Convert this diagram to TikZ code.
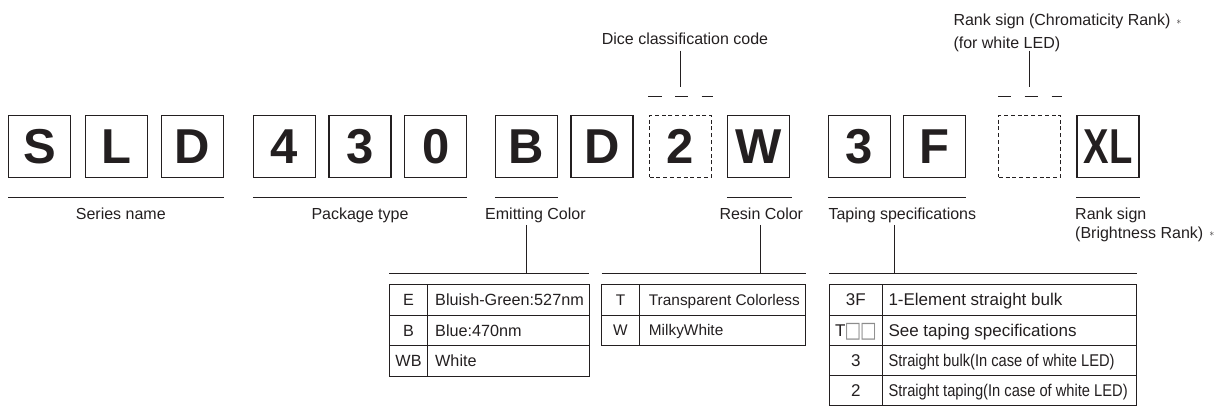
\documentclass[tikz,border=0pt]{standalone}
\usepackage{fontspec}
\setmainfont{Liberation Sans}
\newfontfamily\symfont{DejaVu Sans}
\definecolor{ink}{RGB}{35,31,32}
\definecolor{sqgray}{RGB}{140,140,140}
\begin{document}
\begin{tikzpicture}[x=1pt,y=-1pt,
  every node/.style={text=ink},
  charbox/.style={draw=ink,line width=1.1pt,minimum width=62pt,minimum height=62pt,inner sep=0pt,
    font=\fontsize{49}{49}\selectfont\bfseries},
  dashbox/.style={charbox,dash pattern=on 4pt off 2.8pt},
  rule/.style={draw=ink,line width=1pt},
  lbl/.style={inner sep=0pt,font=\fontsize{16}{19}\selectfont},
  tbl/.style={draw=ink,line width=1pt},
  tA/.style={inner sep=0pt,anchor=base,font=\fontsize{16.2}{18}\selectfont},
  tB/.style={inner sep=0pt,anchor=base west,font=\fontsize{16.2}{18}\selectfont},
  uA/.style={inner sep=0pt,anchor=base,font=\fontsize{15.4}{18}\selectfont},
  uB/.style={inner sep=0pt,anchor=base west,font=\fontsize{15.4}{18}\selectfont},
  vA/.style={inner sep=0pt,anchor=base,font=\fontsize{17}{19}\selectfont},
  vB/.style={inner sep=0pt,anchor=base west,font=\fontsize{17}{19}\selectfont}]
\useasboundingbox (0,0) rectangle (1218,406);

% ---------- code characters ----------
\node[charbox] (cS)  at (39.7,146.3) {S};
\node[charbox] (cL)  at (116.3,146.3) {L};
\node[charbox] (cD1) at (192.3,146.3) {D};
\node[charbox] (c4)  at (284.3,146.3) {4};
\node[charbox] (c3a) at (360,146.3) {3};
\node[charbox] (c0)  at (435.7,146.3) {0};
\node[charbox] (cB)  at (526.3,146.3) {B};
\node[charbox] (cD2) at (602,146.3) {D};
\node[dashbox] (c2)  at (680.5,146.3) {2};
\node[charbox] (cW)  at (758.3,146.3) {W};
\node[charbox] (c3b) at (859.3,146.3) {3};
\node[charbox] (cF)  at (934.7,146.3) {F};
\node[dashbox] (cR)  at (1029.7,146.3) {};
\node[charbox] (cXL) at (1108,146.3) {\scalebox{0.78}[1]{XL}};

% ---------- underlines ----------
\coordinate (ul) at (0,198);
\draw[rule] (cS.west |- ul) -- (cD1.east |- ul);
\draw[rule] (c4.west |- ul) -- (c0.east |- ul);
\draw[rule] (cB.west |- ul) -- (cB.east |- ul);
\draw[rule] (cW.west |- ul) -- ([xshift=2pt]cW.east |- ul);
\draw[rule] (c3b.west |- ul) -- (cF.east |- ul);
\draw[rule] (cXL.west |- ul) -- (cXL.east |- ul);

% ---------- labels below ----------
\node[lbl,anchor=base] (lseries) at (120.8,219.3) {Series name};
\node[lbl,anchor=base] (lpack) at (360,219.3) {Package type};
\node[lbl,anchor=base west] (lemit) at (485,219.3) {Emitting Color};
\node[lbl,anchor=base west] (lresin) at (719.3,219.3) {Resin Color};
\node[lbl,anchor=base west] (ltape) at (828.3,219.3) {Taping specifications};
\node[lbl,anchor=base west] (lrank) at (1075,219.3) {Rank sign};
\node[lbl,anchor=base west] (lbright) at (1075,238.3) {(Brightness Rank)\hspace{6pt}\raisebox{1.8pt}{\fontsize{10}{10}\selectfont$\ast$}};

% ---------- labels above ----------
\node[lbl,anchor=base] (ldice) at (685,45) {Dice classification code};
\node[lbl,anchor=base west] (lchrom) at (953.3,26) {Rank sign (Chromaticity Rank)\hspace{6pt}\raisebox{1.8pt}{\fontsize{10}{10}\selectfont$\ast$}};
\node[lbl,anchor=base west] (lchrom2) at (953.3,48.3) {(for white LED)};

% dice connector and placeholder dashes
\coordinate (dtop) at (680.7,50.7);
\coordinate (dbot) at (680.7,86.7);
\draw[rule] (dtop) -- (dbot);
\draw[rule] (648.3,96.3) -- (661.7,96.3);
\draw[rule] (675,96.3) -- (688.3,96.3);
\draw[rule] (701.7,96.3) -- (712.7,96.3);
% chromaticity connector and placeholder dashes
\coordinate (rtop) at (1029.3,50.7);
\coordinate (rbot) at (1029.3,86.7);
\draw[rule] (rtop) -- (rbot);
\draw[rule] (998,96.7) -- (1010.7,96.7);
\draw[rule] (1024.7,96.7) -- (1038,96.7);
\draw[rule] (1051.7,96.7) -- (1061.7,96.7);

% ---------- connectors to tables ----------
\coordinate (vtop) at (0,225);
\coordinate (bar) at (0,273.3);
\coordinate (ev) at (526.7,0);
\coordinate (rv) at (760,0);
\coordinate (tv) at (894.3,0);
\draw[rule] (ev |- vtop) -- (ev |- bar);
\draw[rule] (rv |- vtop) -- (rv |- bar);
\draw[rule] (tv |- vtop) -- (tv |- bar);
\draw[rule] (389.3,273.3) -- (589.3,273.3);
\draw[rule] (601.7,273.3) -- (805.7,273.3);
\draw[rule] (829,273.3) -- (1136.7,273.3);

% ---------- table 1: emitting colour ----------
\draw[tbl] (389.3,284.3) rectangle (589.3,376);
\draw[tbl] (427.7,284.3) -- (427.7,376);
\draw[tbl] (389.3,315) -- (589.3,315);
\draw[tbl] (389.3,345.7) -- (589.3,345.7);
\node[tA] (e1a) at (408.5,305.5) {E};
\node[tB] (e1b) at (435,305.5) {Bluish-Green:527nm};
\node[tA] (e2a) at (408.5,336.2) {B};
\node[tB] (e2b) at (435,336.2) {Blue:470nm};
\node[tA] (e3a) at (408.5,366.7) {WB};
\node[tB] (e3b) at (435,366.7) {White};

% ---------- table 2: resin colour ----------
\draw[tbl] (601.7,284.3) rectangle (805.7,345);
\draw[tbl] (639.3,284.3) -- (639.3,345);
\draw[tbl] (601.7,315) -- (805.7,315);
\node[uA] (r1a) at (620.5,305.2) {T};
\node[uB] (r1b) at (648.7,305.2) {Transparent Colorless};
\node[uA] (r2a) at (620.5,335.5) {W};
\node[uB] (r2b) at (648.7,335.5) {MilkyWhite};

% ---------- table 3: taping ----------
\draw[tbl] (829,284.3) rectangle (1136.7,405);
\draw[tbl] (882.7,284.3) -- (882.7,405);
\draw[tbl] (829,315) -- (1136.7,315);
\draw[tbl] (829,345.7) -- (1136.7,345.7);
\draw[tbl] (829,375.7) -- (1136.7,375.7);
\node[vA] (t1a) at (855.9,305.8) {3F};
\node[vB] (t1b) at (888.3,305.8) {1-Element straight bulk};
\node[vA] (t2a) at (855.9,336.4) {T\kern-1pt{\symfont\color{sqgray}\fontsize{22}{22}\selectfont\raisebox{-1pt}{\scalebox{0.8}[1]{□\kern-1.5pt□}}}};
\node[vB] (t2b) at (888.3,336.4) {See taping specifications};
\node[vA] (t3a) at (855.9,366.8) {3};
\node[vB] (t3b) at (888.3,366.8) {\scalebox{0.864}[1]{Straight bulk(In case of white LED)}};
\node[vA] (t4a) at (855.9,396.4) {2};
\node[vB] (t4b) at (888.3,396.4) {\scalebox{0.864}[1]{Straight taping(In case of white LED)}};
\end{tikzpicture}
\end{document}
